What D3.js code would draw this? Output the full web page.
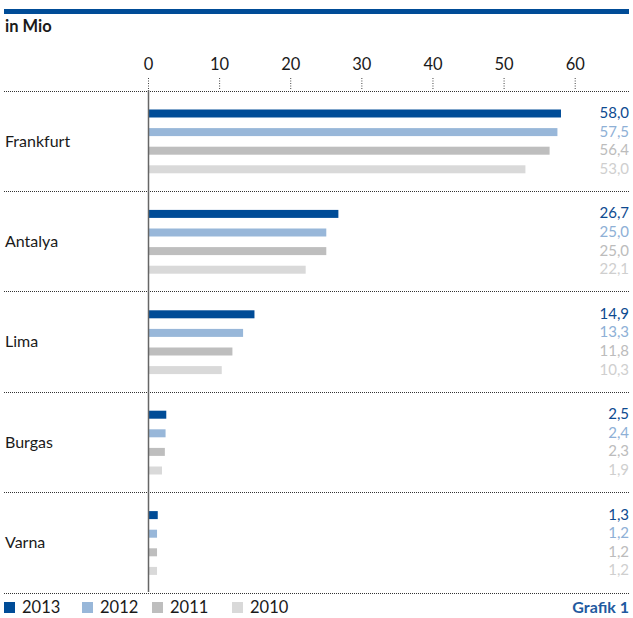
<!DOCTYPE html>
<html><head><meta charset="utf-8">
<script src="https://cdn.jsdelivr.net/npm/d3@7"></script>
<style>
body{margin:0;background:#fff;}
svg{display:block;font-family:Lato,"Open Sans",sans-serif;}
</style></head>
<body><svg id="c" width="633" height="618"></svg>
<script>
const categories = ["Frankfurt","Antalya","Lima","Burgas","Varna"];
const years = ["2013","2012","2011","2010"];
const v2013 = [58.0, 26.7, 14.9, 2.5, 1.3];
const v2012 = [57.5, 25.0, 13.3, 2.4, 1.2];
const v2011 = [56.4, 25.0, 11.8, 2.3, 1.2];
const v2010 = [53.0, 22.1, 10.3, 1.9, 1.2];
const ticks = [0,10,20,30,40,50,60];
const series = {"2013":v2013,"2012":v2012,"2011":v2011,"2010":v2010};
const barColors = {"2013":"#004c97","2012":"#98b7d9","2011":"#bebebe","2010":"#d9d9d9"};
const textColors = {"2013":"#0d4a90","2012":"#8eb0d6","2011":"#bcbcbc","2010":"#cfcfcf"};

const svg = d3.select("#c");
const x = d3.scaleLinear().domain([0,60]).range([148.5,575.2]);
const y = d3.scaleBand().domain(categories).range([90.5,592.5]);
const yi = d3.scaleBand().domain(years).range([13.7,88.1]).paddingInner(0.57).paddingOuter(0.285);

// top rule
svg.append("rect").attr("x",4).attr("y",9).attr("width",625).attr("height",5).attr("fill","#004c97");
svg.append("text").attr("x",5).attr("y",32).attr("font-size",16.5).attr("font-weight","bold").attr("fill","#1a1a1a").text("in Mio");

// ticks
const ax = svg.append("g");
ax.selectAll("text").data(ticks).join("text")
  .attr("x",d=>x(d)).attr("y",70).attr("text-anchor","middle")
  .attr("font-size",16.5).attr("fill","#1a1a1a").text(d=>d);
ax.selectAll("line").data(ticks).join("line")
  .attr("x1",d=>x(d)).attr("x2",d=>x(d)).attr("y1",78).attr("y2",90)
  .attr("stroke","#444").attr("stroke-width",1).attr("stroke-dasharray","1,1.5");

// separators
const seps = categories.map(c=>y(c)).concat([y(categories[categories.length-1])+y.bandwidth()]);
svg.selectAll(".sep").data(seps).join("line").attr("class","sep")
  .attr("x1",4).attr("x2",629).attr("y1",d=>Math.round(d)+0.5).attr("y2",d=>Math.round(d)+0.5)
  .attr("stroke","#333").attr("stroke-width",1).attr("stroke-dasharray","1,1");

// groups
const g = svg.selectAll(".grp").data(categories).join("g").attr("class","grp")
  .attr("transform",c=>`translate(0,${y(c)})`);
g.append("text").attr("x",5).attr("y",y.bandwidth()/2+6).attr("font-size",16).attr("fill","#1a1a1a").text(c=>c);
years.forEach(yr=>{
  g.append("rect").attr("x",x(0)).attr("y",yi(yr)).attr("height",yi.bandwidth())
   .attr("width",(c,i)=>x(series[yr][i])-x(0)).attr("fill",barColors[yr]);
  g.append("text").attr("x",629).attr("y",yi(yr)+yi.bandwidth()/2+4.5).attr("text-anchor","end")
   .attr("font-size",15).attr("fill",textColors[yr])
   .text((c,i)=>d3.format(".1f")(series[yr][i]).replace(".",","));
});

// axis line
svg.append("line").attr("x1",x(0)).attr("x2",x(0)).attr("y1",90).attr("y2",592)
  .attr("stroke","#666").attr("stroke-width",1.5);

// legend
const legX = [4,82,152,232];
const lg = svg.selectAll(".leg").data(years).join("g").attr("class","leg")
  .attr("transform",(d,i)=>`translate(${legX[i]},0)`);
lg.append("rect").attr("x",0).attr("y",602).attr("width",11).attr("height",11).attr("fill",d=>barColors[d]);
lg.append("text").attr("x",18).attr("y",613).attr("font-size",16.5).attr("fill","#1a1a1a").text(d=>d);
svg.append("text").attr("x",629).attr("y",613).attr("text-anchor","end").attr("font-size",16)
  .attr("font-weight","bold").attr("fill","#1f5aa0").text("Grafik 1");
</script></body></html>
